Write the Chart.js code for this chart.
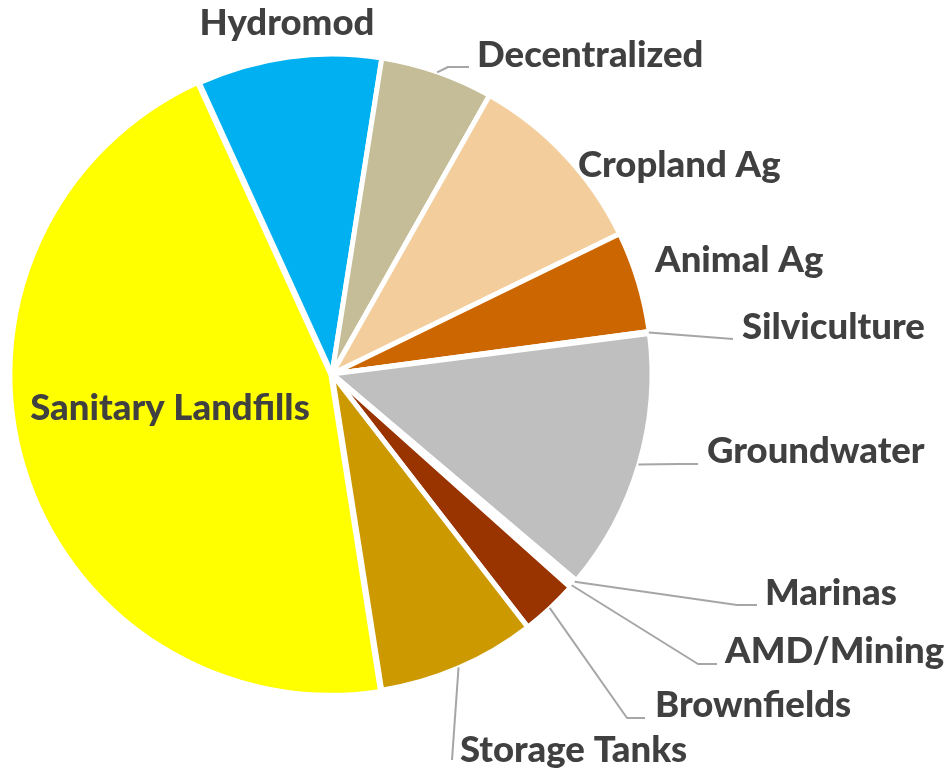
<!DOCTYPE html>
<html>
<head>
<meta charset="utf-8">
<script src="https://cdn.jsdelivr.net/npm/chart.js@4/dist/chart.umd.min.js"></script>
<style>
  html, body { margin: 0; padding: 0; background: #ffffff; }
  #wrap { width: 948px; height: 770px; position: relative; }
</style>
</head>
<body>
<div id="wrap"><canvas id="c"></canvas></div>
<script>
// ---- data ----
const categories = ['Hydromod', 'Decentralized', 'Cropland Ag', 'Animal Ag', 'Silviculture',
  'Groundwater', 'Marinas', 'AMD/Mining', 'Brownfields', 'Storage Tanks', 'Sanitary Landfills'];
const shares = [9.3, 5.7, 9.6, 5.1, 0.1, 13.2, 0.2, 0.25, 2.9, 8.0, 45.7];
const sliceColors = ['#00B0F0', '#C4BD97', '#F3CD9B', '#CC6600', '#E2EFDA',
  '#BFBFBF', '#F2F2F2', '#EDEDED', '#993300', '#CC9900', '#FFFF00'];

// ---- label layout (offsets from pie centre, px) ----
const BORDER = 5;
const labelLayout = {
  'Hydromod':           { dx: -45, dy: -339, align: 'center' },
  'Decentralized':      { dx: 145, dy: -307, align: 'left', leader: [[116, -307], [137, -307]] },
  'Cropland Ag':        { dx: 246, dy: -197, align: 'left' },
  'Animal Ag':          { dx: 323, dy: -102, align: 'left' },
  'Silviculture':       { dx: 410, dy: -35,  align: 'left', leader: [[401, -35]] },
  'Groundwater':        { dx: 375, dy: 89,   align: 'left', leader: [[348, 90], [366, 90]] },
  'Marinas':            { dx: 433, dy: 231,  align: 'left', leader: [[405, 231], [425, 231]] },
  'AMD/Mining':         { dx: 393, dy: 289,  align: 'left', leader: [[366, 290], [385, 290]] },
  'Brownfields':        { dx: 323, dy: 343,  align: 'left', leader: [[295, 344], [313, 344]] },
  'Storage Tanks':      { dx: 128, dy: 388,  align: 'left', leader: [[120, 386]] },
  'Sanitary Landfills': { dx: -162, dy: 46,  align: 'center' }
};
const TARGET_TEXT_WIDTH = 2227;
const FONT_FAMILY = 'Lato, "Open Sans", sans-serif';
const FONT_WEIGHT = '900';

function fontSize(ctx) {
  ctx.save();
  ctx.font = FONT_WEIGHT + ' 100px ' + FONT_FAMILY;
  let total = 0;
  categories.forEach(c => total += ctx.measureText(c).width);
  ctx.restore();
  return 100 * TARGET_TEXT_WIDTH / total;
}

const labelPlugin = {
  id: 'pieLabels',
  afterDatasetsDraw(chart) {
    const ctx = chart.ctx;
    const meta = chart.getDatasetMeta(0);
    const ca = chart.chartArea;
    const cx = (ca.left + ca.right) / 2;
    const cy = (ca.top + ca.bottom) / 2;
    const fs = fontSize(ctx);
    ctx.save();
    meta.data.forEach((arc, i) => {
      const name = categories[i];
      const lay = labelLayout[name];
      if (!lay) return;
      const p = arc.getProps(['x', 'y', 'startAngle', 'endAngle', 'outerRadius'], true);
      const mid = (p.startAngle + p.endAngle) / 2;
      if (lay.leader) {
        const r = p.outerRadius - BORDER / 2 + 2;
        ctx.beginPath();
        ctx.moveTo(p.x + Math.cos(mid) * r, p.y + Math.sin(mid) * r);
        lay.leader.forEach(pt => ctx.lineTo(cx + pt[0], cy + pt[1]));
        ctx.strokeStyle = '#A6A6A6';
        ctx.lineWidth = 2;
        ctx.lineJoin = 'round';
        ctx.stroke();
      }
      ctx.font = FONT_WEIGHT + ' ' + fs.toFixed(2) + 'px ' + FONT_FAMILY;
      ctx.fillStyle = '#404040';
      ctx.textAlign = lay.align;
      ctx.textBaseline = 'alphabetic';
      ctx.fillText(name, cx + lay.dx, cy + lay.dy);
    });
    ctx.restore();
  }
};

new Chart(document.getElementById('c'), {
  type: 'pie',
  data: {
    labels: categories,
    datasets: [{
      data: shares,
      backgroundColor: sliceColors,
      borderColor: '#FFFFFF',
      borderWidth: BORDER,
      radius: 320,
      offset: categories.map(c => c === 'Sanitary Landfills' ? 5 : 0)
    }]
  },
  options: {
    responsive: true,
    maintainAspectRatio: false,
    animation: false,
    rotation: -24.5,
    layout: { padding: { left: 12, top: 54, right: 296, bottom: 76 } },
    plugins: {
      legend: { display: false },
      tooltip: { enabled: false }
    }
  },
  plugins: [labelPlugin]
});
</script>
</body>
</html>
